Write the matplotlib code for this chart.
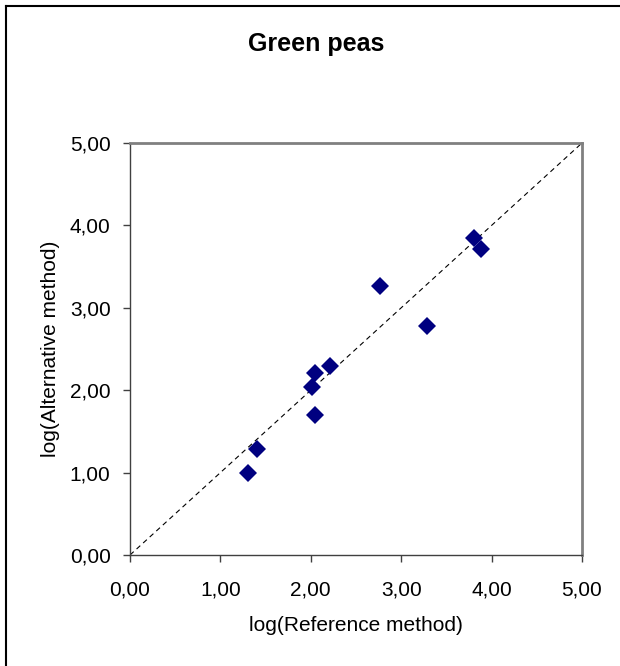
import matplotlib
matplotlib.use('Agg')
import matplotlib.pyplot as plt
from matplotlib.lines import Line2D
from matplotlib.ticker import FuncFormatter

plt.rcParams['font.family'] = ['Liberation Sans', 'DejaVu Sans']

# log values
ref_method = [1.30, 1.40, 2.01, 2.05, 2.05, 2.21, 2.76, 3.28, 3.81, 3.88]
alt_method = [1.00, 1.29, 2.04, 1.70, 2.21, 2.29, 3.26, 2.78, 3.85, 3.71]
ticks = [0, 1, 2, 3, 4, 5]

fig = plt.figure(figsize=(6.2, 6.66), dpi=100)
ax = fig.add_axes([130 / 620, (666 - 555) / 666, 452 / 620, 412 / 666])

# 1:1 line
ax.plot([0, 5], [0, 5], color='black', linestyle=(0, (4.5, 3.5)), linewidth=0.8)
ax.plot(ref_method, alt_method, linestyle='none', marker='D', markersize=9.5,
        color='#000080', markeredgewidth=0)

ax.set_xlim(0, 5)
ax.set_ylim(0, 5)
ax.set_xticks(ticks)
ax.set_yticks(ticks)
fmt = FuncFormatter(lambda v, p: f'{v:.2f}'.replace('.', ','))
ax.xaxis.set_major_formatter(fmt)
ax.yaxis.set_major_formatter(fmt)
ax.tick_params(labelsize=15, length=5, width=1, color='#404040')
ax.tick_params(axis='x', pad=13)
ax.tick_params(axis='y', pad=9)

for side in ['top', 'right']:
    ax.spines[side].set_color('#808080')
    ax.spines[side].set_linewidth(2)
for side in ['left', 'bottom']:
    ax.spines[side].set_color('#404040')
    ax.spines[side].set_linewidth(1)

ax.set_xlabel('log(Reference method)', fontsize=15, labelpad=12)
ax.set_ylabel('log(Alternative method)', fontsize=15, labelpad=7)

fig.text(316 / 620, 1 - 44 / 666, 'Green peas', fontsize=18, fontweight='bold',
         ha='center', va='center')

# outer chart border: only left and top edges fall inside the picture
bx, by = 6 / 620, 1 - 6 / 666
fig.lines.append(Line2D([bx, bx], [0, by], transform=fig.transFigure,
                        color='black', linewidth=1.5))
fig.lines.append(Line2D([bx, 1], [by, by], transform=fig.transFigure,
                        color='black', linewidth=1.5))

fig.savefig('out.png', dpi=100)
